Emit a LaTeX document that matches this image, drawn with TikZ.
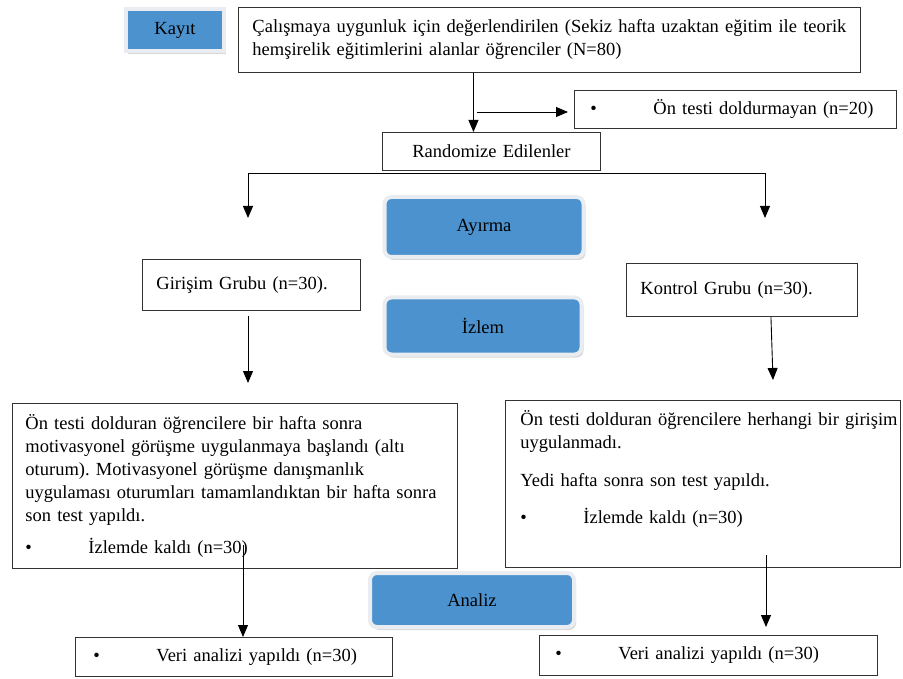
\documentclass[tikz,border=0pt]{standalone}
\usepackage{fontspec}
\setmainfont{Liberation Serif}
\usepackage{tikz}
\usetikzlibrary{shapes,arrows.meta,shadows,positioning,calc}
\definecolor{maviAkis}{RGB}{76,146,206}
\definecolor{kenarGri}{RGB}{233,236,240}
\newcommand\madde{\makebox[63pt][l]{\textbullet}}
\frenchspacing

\begin{document}
\begin{tikzpicture}[x=1pt,y=-1pt,
    every node/.style={font=\fontsize{18.5}{23}\selectfont},
    kutu/.style={draw=black!80,line width=0.9pt,fill=white,inner xsep=14pt,align=left,anchor=north west},
    maviKutu/.style={fill=maviAkis,draw=kenarGri,line width=4pt,rounded corners=7pt,
      drop shadow={shadow xshift=2pt,shadow yshift=-3pt,fill=black!30}},
    ok/.style={-{Triangle[length=12pt,width=10pt]},line width=0.9pt}]

  \useasboundingbox (0,0) rectangle (903,679);

  % blue stage labels
  \node[maviKutu,rounded corners=0pt,minimum width=98pt,minimum height=42pt] (kayit) at (175,30) {Kayıt};
  \node[maviKutu,minimum width=199pt,minimum height=60pt] (ayirma) at (484,227) {Ayırma};
  \node[maviKutu,minimum width=197pt,minimum height=57pt] (izlem) at (483,326) {İzlem};
  \node[maviKutu,minimum width=204pt,minimum height=54pt] (analiz) at (472,600) {Analiz};

  % the boxes of the flow
  \node[kutu,text width=594pt,minimum height=65pt] (tarama) at (238,7)
    {\mbox{Çalışmaya uygunluk için değerlendirilen (Sekiz hafta uzaktan eğitim ile teorik}\\
     hemşirelik eğitimlerini alanlar öğrenciler (N=80)};
  \node[kutu,text width=190pt,minimum height=38pt,align=center] (rand) at (382,132) {Randomize Edilenler};
  \node[kutu,text width=290pt,minimum height=38pt,inner xsep=16pt] (ontest) at (574,90)
    {\madde Ön testi doldurmayan (n=20)};
  \node[kutu,text width=190pt,minimum height=51pt] (gir) at (142,259) {Girişim Grubu (n=30).};
  \node[kutu,text width=203pt,minimum height=53pt] (kon) at (626,263) {Kontrol Grubu (n=30).};
  \node[kutu,text width=419pt,minimum height=165pt,inner xsep=13pt] (lb) at (12,403)
    {Ön testi dolduran öğrencilere bir hafta sonra\\
     motivasyonel görüşme uygulanmaya başlandı (altı\\
     oturum). Motivasyonel görüşme danışmanlık\\
     \mbox{uygulaması oturumları tamamlandıktan bir hafta sonra}\\
     son test yapıldı.\\[9pt]
     \madde İzlemde kaldı (n=30)};
  \node[kutu,text width=365pt,minimum height=167pt,inner xsep=15pt] (rb) at (505,400)
    {\mbox{Ön testi dolduran öğrencilere herhangi bir girişim}\\
     uygulanmadı.\\[15pt]
     Yedi hafta sonra son test yapıldı.\\[14pt]
     \madde İzlemde kaldı (n=30)\\[10pt]\mbox{}};
  \node[kutu,text width=281pt,minimum height=39pt,inner xsep=18pt] (vl) at (75,637)
    {\madde Veri analizi yapıldı (n=30)};
  \node[kutu,text width=306pt,minimum height=40pt,inner xsep=16pt] (vr) at (539,635)
    {\madde Veri analizi yapıldı (n=30)};

  % free ends of the arrows
  \coordinate (dal) at (477,112);
  \coordinate (solu) at (248,218);
  \coordinate (sagu) at (765,218);
  \coordinate (solb) at (248,383);
  \coordinate (sagb) at (773,380);
  \coordinate (solc) at (243,545);
  \coordinate (sagc) at (766,555);

  % draw the arrows
  \draw[ok] ([xshift=-18pt]rand.north |- tarama.south) -- ([xshift=-18pt]rand.north);
  \draw[ok] (dal) -- ([xshift=-6pt]ontest.west |- dal);
  \draw[ok] ([yshift=-3pt]rand.south) -| (solu);
  \draw[ok] ([yshift=-3pt]rand.south) -| (sagu);
  \draw[ok] ([yshift=-5pt]gir.south -| solb) -- (solb);
  \draw[ok] ([xshift=29pt]kon.south) -- (sagb);
  \draw[ok] (solc) -- (solc |- vl.north);
  \draw[ok] (sagc) -- ([yshift=8pt]sagc |- vr.north);

\end{tikzpicture}
\end{document}
